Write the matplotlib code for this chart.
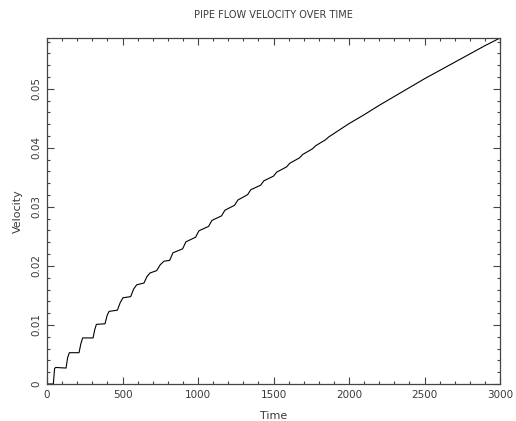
import matplotlib
matplotlib.use("Agg")
import matplotlib.pyplot as plt
from matplotlib.ticker import MultipleLocator

plt.rcParams['font.family'] = ['DejaVu Sans']

# time / velocity
time = [0, 42, 50, 57, 126, 137, 148, 212, 224, 236, 305, 316, 327,
        384, 398, 411, 466, 485, 503, 554, 574, 594, 642, 662, 682,
        726, 750, 775,
        812, 834, 898, 920, 984, 1006, 1070, 1092, 1156, 1178,
        1242, 1264, 1328, 1350, 1414, 1436, 1500, 1522, 1586, 1608,
        1672, 1694, 1758, 1780, 1844, 1866,
        2000, 2100, 2200, 2300, 2400, 2500, 2600, 2700, 2800, 2900, 3000]
velocity = [0.0, 0.0, 0.0026, 0.0028, 0.0027, 0.0045, 0.0053, 0.0053, 0.0068, 0.0078,
            0.0078, 0.0092, 0.0101, 0.0102, 0.0116, 0.0123, 0.0125, 0.0138, 0.0146,
            0.0148, 0.0161, 0.0168, 0.0171, 0.0182, 0.0188, 0.0192, 0.0202, 0.0208,
            0.02093, 0.02222, 0.02289, 0.02408, 0.02486, 0.02595, 0.02669, 0.02770,
            0.02848, 0.02943, 0.03027, 0.03116, 0.03206, 0.03291, 0.03366, 0.03441,
            0.03521, 0.03590, 0.03676, 0.03739, 0.03830, 0.03889, 0.03983, 0.04037,
            0.04136, 0.04185,
            0.0441, 0.0456, 0.0472, 0.0487, 0.0502, 0.0517, 0.0531, 0.0545, 0.0559,
            0.0573, 0.0586]

txt = '#3a3a3a'

fig = plt.figure(figsize=(5.16, 4.21), dpi=100)
ax = fig.add_axes([0.0911, 0.0879, 0.8779, 0.8218])

ax.plot(time, velocity, color='black', lw=0.8)

ax.set_xlim(0, 3000)
ax.set_ylim(0, velocity[-1])

ax.xaxis.set_major_locator(MultipleLocator(500))
ax.xaxis.set_minor_locator(MultipleLocator(100))
ax.yaxis.set_major_locator(MultipleLocator(0.01))
ax.yaxis.set_minor_locator(MultipleLocator(0.002))

ax.tick_params(which='both', direction='in', top=True, right=True,
               colors='#444444', labelcolor=txt, labelsize=7.5, width=0.8)
ax.tick_params(which='major', length=5)
ax.tick_params(which='minor', length=2.5)
ax.tick_params(axis='x', pad=4)
ax.tick_params(axis='y', pad=4)

ax.set_yticks([0, 0.01, 0.02, 0.03, 0.04, 0.05])
ax.set_yticklabels(['0', '0.01', '0.02', '0.03', '0.04', '0.05'],
                   rotation=90, va='center')

for s in ax.spines.values():
    s.set_color('#444444')
    s.set_linewidth(0.9)

ax.set_xlabel('Time', color=txt, fontsize=8, labelpad=8)
ax.set_ylabel('Velocity', color=txt, fontsize=8, labelpad=6)
fig.text(0.53, 0.965, 'PIPE FLOW VELOCITY OVER TIME', color=txt,
         fontsize=7, ha='center', va='center')

fig.savefig('out.png', dpi=100)
